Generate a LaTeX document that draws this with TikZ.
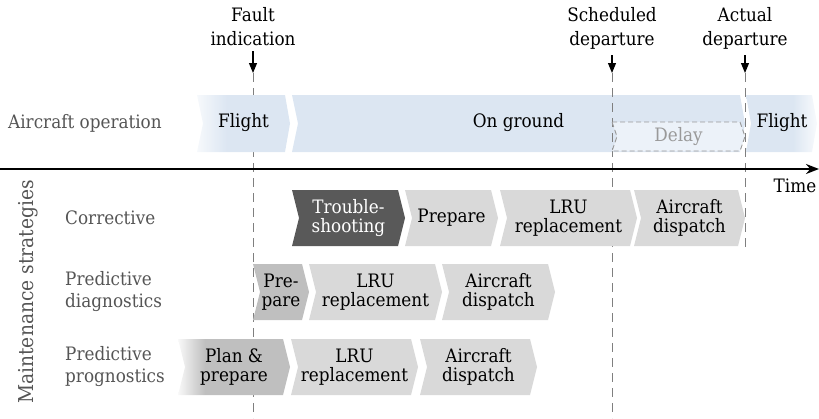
\documentclass[tikz,border=0pt]{standalone}
\usepackage{fontspec}
\setmainfont{DejaVu Serif}[FakeStretch=0.91]
\usetikzlibrary{arrows.meta}
\definecolor{opblue}{HTML}{DCE6F2}
\definecolor{delayfill}{HTML}{ECF2F9}
\definecolor{lgray}{HTML}{D9D9D9}
\definecolor{mgray}{HTML}{BFBFBF}
\definecolor{dgray}{HTML}{595959}
\definecolor{labgray}{HTML}{555555}
\definecolor{lineg}{HTML}{7F7F7F}
\definecolor{delaytext}{HTML}{9A9A9A}
\pgfdeclarehorizontalshading{fadeinblue}{100bp}{color(0bp)=(opblue!25!white); color(25bp)=(opblue!25!white); color(41bp)=(opblue); color(100bp)=(opblue)}
\pgfdeclarehorizontalshading{fadeoutblue}{100bp}{color(0bp)=(opblue); color(58bp)=(opblue); color(75bp)=(opblue!20!white); color(100bp)=(opblue!20!white)}
\pgfdeclarehorizontalshading{fadeingray}{100bp}{color(0bp)=(mgray!10!white); color(25bp)=(mgray!10!white); color(37bp)=(mgray); color(100bp)=(mgray)}
% #1 path style, #2 text style, #3 x1, #4 x2, #5 ytop, #6 d, #7 name, #8 text
\newcommand\chev[8]{%
  \path[#1] (#3,#5) -- ({#4-#6},#5) -- (#4,{#5+28}) -- ({#4-#6},{#5+56}) -- (#3,{#5+56}) -- ({#3+#6},{#5+28}) -- cycle;
  \node[ctext,#2] (#7) at ({(#3+#4)/2},{#5+28}) {#8};}
\tikzset{
  ctext/.style={align=center, inner sep=0pt, font=\fontsize{18.5}{19}\selectfont},
  toplab/.style={align=center, inner sep=0pt, anchor=south, text depth=0pt, font=\fontsize{18.5}{24}\selectfont},
  rowlab/.style={align=left, inner sep=0pt, anchor=west, text=labgray, font=\fontsize{18.5}{22}\selectfont},
  dline/.style={draw=lineg, line width=1pt, dash pattern=on 9pt off 6pt},
  markarrow/.style={line width=1.1pt, -{Triangle[length=10pt,width=8pt]}},
  lightchev/.style={fill=lgray},
  midchev/.style={fill=mgray},
  darkchev/.style={fill=dgray},
}
\begin{document}
\begin{tikzpicture}[x=1pt,y=-1pt]
\useasboundingbox (0,0) rectangle (819,418);
% on ground band
\path[fill=opblue] (292,95) -- (740,95) -- (745,123.5) -- (740,152) -- (292,152) -- (298,123.5) -- cycle;
% dashed time marks
\coordinate (ft) at (253,73);
\coordinate (fb) at (253,418);
\coordinate (st) at (612,73);
\coordinate (sb) at (612,418);
\coordinate (at) at (745,73);
\coordinate (ab) at (745,247);
\draw[dline] (ft) -- (fb);
\draw[dline] (st) -- (sb);
\draw[dline] (at) -- (ab);
% delay
\path[fill=delayfill, draw=lineg!80, line width=0.9pt, dash pattern=on 5pt off 3pt]
  (612,122) -- (740,122) -- (745,136.5) -- (740,151) -- (612,151) -- (617,136.5) -- cycle;
\node[inner sep=0pt, text=delaytext, font=\fontsize{18.5}{19}\selectfont] (delay) at (678.5,137) {Delay};
% flight bands
\path[shading=fadeinblue] (197,95) -- (285,95) -- (290,123.5) -- (285,152) -- (197,152) -- (203,123.5) -- cycle;
\path[shading=fadeoutblue] (746,95) -- (812,95) -- (817,123.5) -- (812,152) -- (746,152) -- (751,123.5) -- cycle;
\node[ctext] (flight1) at (243.5,123) {Flight};
\node[ctext] (ground) at (518.5,123) {On ground};
\node[ctext] (flight2) at (782,123) {Flight};
\node[rowlab] (opl) at (8,123) {Aircraft operation};
% time axis
\coordinate (axl) at (0,169);
\coordinate (axr) at (819,169);
\draw[line width=2pt, -{Stealth[length=13pt,width=10pt]}] (axl) -- (axr);
\node[ctext] (time) at (795,186) {Time};
% corrective
\chev{darkchev}{text=white}{292}{405}{190}{7}{trouble}{Trouble-\\shooting}
\chev{lightchev}{}{405}{498}{190}{7}{prep1}{Prepare}
\chev{lightchev}{}{500}{637}{190}{7}{lru1}{LRU\\replacement}
\chev{lightchev}{}{634}{745}{190}{7}{disp1}{Aircraft\\dispatch}
% predictive diagnostics
\chev{midchev}{}{253}{309}{264}{7}{prep2}{Pre-\\pare}
\chev{lightchev}{}{309}{442}{264}{7}{lru2}{LRU\\replacement}
\chev{lightchev}{}{442}{555}{264}{7}{disp2}{Aircraft\\dispatch}
% predictive prognostics
\chev{shading=fadeingray}{}{178}{290}{339}{7}{prep3}{Plan \&\\prepare}
\chev{lightchev}{}{291}{418}{339}{7}{lru3}{LRU\\replacement}
\chev{lightchev}{}{420}{537}{339}{7}{disp3}{Aircraft\\dispatch}
% row labels
\node[rowlab] (corr) at (65,218) {Corrective};
\node[rowlab] (pdiag) at (65,292) {Predictive\\diagnostics};
\node[rowlab] (pprog) at (65,367) {Predictive\\prognostics};
\node[inner sep=0pt, rotate=90, text=labgray, font=\fontsize{20.5}{22}\selectfont] (ms) at (28,292) {Maintenance strategies};
% top labels and arrows
\node[toplab] (fault) at (253,46) {Fault\\indication};
\node[toplab] (sched) at (612,46) {Scheduled\\departure};
\node[toplab] (actual) at (745,46) {Actual\\departure};
\draw[markarrow] ([yshift=-5pt]fault.south) -- (ft);
\draw[markarrow] ([yshift=-9pt]sched.south) -- (st);
\draw[markarrow] ([yshift=-9pt]actual.south) -- (at);
\end{tikzpicture}
\end{document}
